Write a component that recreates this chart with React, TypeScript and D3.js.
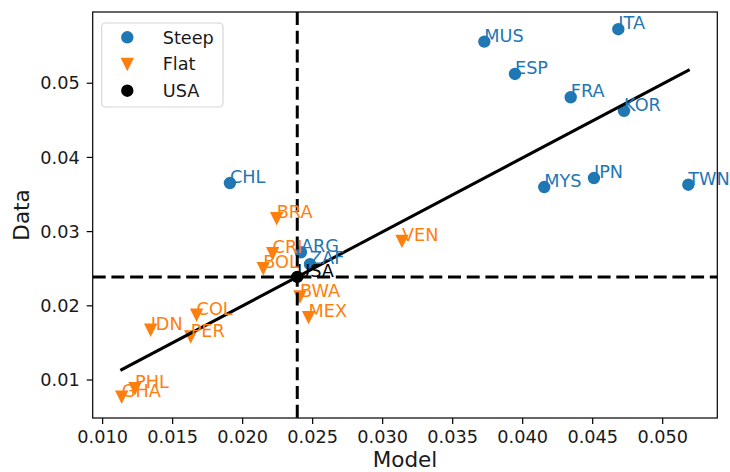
import React from "react";
import * as d3 from "d3";

// Countries with a steep profile
const steepCountries = ["ITA", "MUS", "ESP", "FRA", "KOR", "MYS", "JPN", "TWN", "CHL", "ARG", "ZAF"];
const steepModel = [0.04683, 0.03726, 0.03945, 0.04343, 0.04724, 0.04154, 0.04509, 0.05183, 0.01909, 0.02416, 0.02481];
const steepData = [0.05728, 0.05561, 0.05125, 0.04811, 0.04627, 0.03601, 0.03722, 0.03632, 0.03655, 0.02722, 0.02561];

// Countries with a flat profile
const flatCountries = ["BRA", "CRI", "BOL", "VEN", "BWA", "MEX", "COL", "IDN", "PER", "PHL", "GHA"];
const flatModel = [0.02243, 0.02214, 0.02147, 0.03138, 0.02409, 0.02471, 0.01671, 0.01343, 0.01629, 0.01231, 0.01136];
const flatData = [0.03181, 0.02709, 0.02507, 0.02875, 0.02125, 0.01848, 0.01879, 0.01677, 0.01586, 0.00888, 0.00775];

// Reference country
const usaLabel = "USA";
const usaModel = 0.0239;
const usaData = 0.0239;

// Fitted line
const fitSlope = 0.997;
const fitIntercept = 0.00007;

const xTicks = [0.01, 0.015, 0.02, 0.025, 0.03, 0.035, 0.04, 0.045, 0.05];
const yTicks = [0.01, 0.02, 0.03, 0.04, 0.05];
const xDomain = [0.00929, 0.0539];
const yDomain = [0.00488, 0.0596];

const legendItems = ["Steep", "Flat", "USA"];

const BLUE = "#1f77b4";
const ORANGE = "#ff7f0e";
const FONT = "DejaVu Sans";

const W = 730;
const H = 472;
const plot = { left: 92.7, right: 717.3, top: 12, bottom: 418 };

const tri = (s: number) => `M0,${s}L${-s},${-s}L${s},${-s}Z`;

export default function App() {
  const x = d3.scaleLinear().domain(xDomain).range([plot.left, plot.right]);
  const y = d3.scaleLinear().domain(yDomain).range([plot.bottom, plot.top]);

  const allModel = [...steepModel, ...flatModel, usaModel];
  const [xMin, xMax] = d3.extent(allModel) as [number, number];
  const fitLine = d3.line<number>().x((d) => x(d)).y((d) => y(fitIntercept + fitSlope * d));

  const steep = steepCountries.map((c, i) => ({ c, mx: steepModel[i], dy: steepData[i] }));
  const flat = flatCountries.map((c, i) => ({ c, mx: flatModel[i], dy: flatData[i] }));

  const fmtX = d3.format(".3f");
  const fmtY = d3.format(".2f");
  const fs = 17.7;

  return (
    <div style={{ position: "fixed", left: 0, top: 0 }}>
      <svg width={W} height={H} style={{ display: "block", fontFamily: FONT }}>
        <rect width={W} height={H} fill="#fff" />
        <defs>
          <clipPath id="plotArea">
            <rect x={plot.left} y={plot.top} width={plot.right - plot.left} height={plot.bottom - plot.top} />
          </clipPath>
        </defs>

        {/* markers */}
        <g>
          {steep.map((d) => (
            <circle key={d.c} cx={x(d.mx)} cy={y(d.dy)} r={5.4} fill={BLUE} stroke={BLUE} strokeWidth={1.6} />
          ))}
          {flat.map((d) => (
            <path key={d.c} d={tri(5.4)} transform={`translate(${x(d.mx)},${y(d.dy)})`} fill={ORANGE} stroke={ORANGE} strokeWidth={1.6} strokeLinejoin="miter" />
          ))}
          <circle cx={x(usaModel)} cy={y(usaData)} r={5.4} fill="#000" stroke="#000" strokeWidth={1.6} />
        </g>

        {/* reference lines and fit */}
        <g clipPath="url(#plotArea)" fill="none" stroke="#000" strokeWidth={3}>
          <line x1={plot.left} x2={plot.right} y1={y(usaData)} y2={y(usaData)} strokeDasharray="13 5.7" />
          <line x1={x(usaModel)} x2={x(usaModel)} y1={plot.top} y2={plot.bottom} strokeDasharray="13 5.7" />
          <path d={fitLine([xMin, xMax]) || ""} strokeLinecap="square" />
        </g>

        {/* country labels */}
        <g fontSize={fs}>
          {steep.map((d) => (
            <text key={d.c} x={x(d.mx)} y={y(d.dy)} fill={BLUE}>{d.c}</text>
          ))}
          {flat.map((d) => (
            <text key={d.c} x={x(d.mx)} y={y(d.dy)} fill={ORANGE}>{d.c}</text>
          ))}
          <text x={x(usaModel)} y={y(usaData)} fill="#000">{usaLabel}</text>
        </g>

        {/* frame */}
        <rect x={plot.left} y={plot.top} width={plot.right - plot.left} height={plot.bottom - plot.top} fill="none" stroke="#000" strokeWidth={1.2} />

        {/* x axis */}
        <g fontSize={fs} fill="#1a1a1a">
          {xTicks.map((t) => (
            <g key={t} transform={`translate(${x(t)},${plot.bottom})`}>
              <line y1={0} y2={6} stroke="#000" strokeWidth={1.2} />
              <text y={25} textAnchor="middle">{fmtX(t)}</text>
            </g>
          ))}
        </g>
        <text x={(plot.left + plot.right) / 2} y={467} textAnchor="middle" fontSize={21.5} fill="#1a1a1a">Model</text>

        {/* y axis */}
        <g fontSize={fs} fill="#1a1a1a">
          {yTicks.map((t) => (
            <g key={t} transform={`translate(${plot.left},${y(t)})`}>
              <line x1={0} x2={-6} stroke="#000" strokeWidth={1.2} />
              <text x={-13} dy="0.35em" textAnchor="end">{fmtY(t)}</text>
            </g>
          ))}
        </g>
        <text transform={`translate(28.5,${(plot.top + plot.bottom) / 2}) rotate(-90)`} textAnchor="middle" fontSize={21.5} fill="#1a1a1a">Data</text>

        {/* legend */}
        <g>
          <rect x={101.7} y={23} width={121.3} height={84} rx={4} fill="#fff" fillOpacity={0.8} stroke="#d6d6d6" strokeWidth={1.2} />
          {legendItems.map((name, i) => {
            const cy = 37.3 + i * 26.7;
            return (
              <g key={name}>
                {i === 0 && <circle cx={127.3} cy={cy} r={5.4} fill={BLUE} stroke={BLUE} strokeWidth={1.6} />}
                {i === 1 && <path d={tri(5.4)} transform={`translate(127.3,${cy})`} fill={ORANGE} stroke={ORANGE} strokeWidth={1.6} />}
                {i === 2 && <circle cx={127.3} cy={cy} r={5.4} fill="#000" stroke="#000" strokeWidth={1.6} />}
                <text x={162.7} y={cy + 6.4} fontSize={fs} fill="#1a1a1a">{name}</text>
              </g>
            );
          })}
        </g>
      </svg>
    </div>
  );
}
